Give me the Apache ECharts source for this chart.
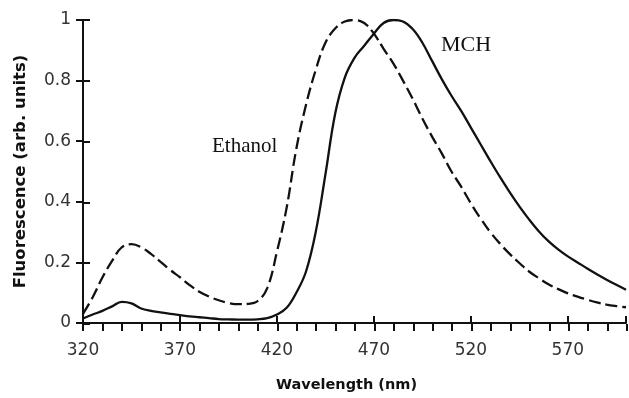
<!DOCTYPE html>
<html>
<head>
<meta charset="utf-8">
<script src="https://cdn.jsdelivr.net/npm/echarts@6/dist/echarts.min.js"></script>
<style>
  html, body { margin: 0; padding: 0; background: #fff; }
  #box { width: 629px; height: 398px; }
</style>
</head>
<body>
<div id="box"></div>
<script>
// wavelength grid (nm), 5 nm steps
let wavelengths = [
  320, 325, 330, 335, 340, 345, 350, 355, 360, 365,
  370, 375, 380, 385, 390, 395, 400, 405, 410, 415,
  420, 425, 430, 435, 440, 445, 450, 455, 460, 465,
  470, 475, 480, 485, 490, 495, 500, 505, 510, 515,
  520, 525, 530, 535, 540, 545, 550, 555, 560, 565,
  570, 575, 580, 585, 590, 595, 600
];
// dashed curve
let ethanol = [
  0.03, 0.085, 0.15, 0.205, 0.25, 0.26, 0.25, 0.228, 0.202, 0.175,
  0.151, 0.125, 0.103, 0.087, 0.075, 0.066, 0.062, 0.063, 0.072, 0.115,
  0.235, 0.38, 0.575, 0.72, 0.835, 0.925, 0.972, 0.995, 1.0, 0.99,
  0.955, 0.905, 0.857, 0.80, 0.74, 0.675, 0.615, 0.56, 0.50, 0.45,
  0.395, 0.345, 0.30, 0.262, 0.228, 0.198, 0.17, 0.148, 0.128, 0.112,
  0.098, 0.087, 0.077, 0.068, 0.061, 0.056, 0.052
];
// solid curve
let mch = [
  0.015, 0.028, 0.04, 0.055, 0.07, 0.065, 0.048, 0.04, 0.035, 0.03,
  0.026, 0.022, 0.019, 0.016, 0.013, 0.012, 0.011, 0.011, 0.012, 0.016,
  0.028, 0.05, 0.10, 0.17, 0.30, 0.49, 0.69, 0.81, 0.875, 0.915,
  0.955, 0.99, 1.0, 0.995, 0.97, 0.925, 0.865, 0.805, 0.75, 0.70,
  0.645, 0.59, 0.535, 0.482, 0.432, 0.385, 0.342, 0.303, 0.27, 0.243,
  0.22, 0.20, 0.18, 0.161, 0.143, 0.126, 0.11
];
let xTicks = [320, 370, 420, 470, 520, 570];
let yTicks = [0, 0.2, 0.4, 0.6, 0.8, 1];

let ink = "#111";
let pairs = arr => wavelengths.map((w, i) => [w, arr[i]]);

let chart = echarts.init(document.getElementById("box"), null, { renderer: "canvas" });

let gridPos = { left: 83, right: 2, top: 20, bottom: 74 };
let option = {
  animation: false,
  backgroundColor: "#fff",
  grid: [Object.assign({}, gridPos), Object.assign({}, gridPos)],
  xAxis: [
    {
      type: "value",
      gridIndex: 0,
      min: 320,
      max: 600,
      interval: 50,
      name: "Wavelength (nm)",
      nameLocation: "middle",
      nameGap: 55,
      nameTextStyle: {
        fontFamily: "DejaVu Sans",
        fontWeight: "bold",
        fontSize: 14.5,
        color: ink,
        padding: [0, 16, 0, 0]
      },
      axisLine: { show: true, onZero: false, lineStyle: { color: ink, width: 2 } },
      axisTick: { show: true, inside: true, length: 7, lineStyle: { color: ink, width: 2 } },
      axisLabel: {
        margin: 19,
        fontFamily: "DejaVu Sans",
        fontSize: 17,
        color: "#333",
        formatter: v => (xTicks.indexOf(v) >= 0 ? String(v) : "")
      },
      splitLine: { show: false }
    },
    {
      // minor ticks every 10 nm
      type: "value",
      gridIndex: 1,
      min: 320,
      max: 600,
      interval: 10,
      axisLine: { show: false },
      axisTick: { show: true, inside: false, length: 7, lineStyle: { color: ink, width: 2 } },
      axisLabel: { show: false },
      splitLine: { show: false }
    }
  ],
  yAxis: [
    {
      type: "value",
      gridIndex: 0,
      min: 0,
      max: 1,
      interval: 0.2,
      name: "Fluorescence (arb. units)",
      nameLocation: "middle",
      nameGap: 54,
      nameTextStyle: {
        fontFamily: "DejaVu Sans",
        fontWeight: "bold",
        fontSize: 16.5,
        color: ink
      },
      axisLine: { show: true, onZero: false, lineStyle: { color: ink, width: 2 } },
      axisTick: { show: true, inside: false, length: 7, lineStyle: { color: ink, width: 2 } },
      axisLabel: {
        margin: 12,
        fontFamily: "DejaVu Sans",
        fontSize: 17,
        color: "#333",
        formatter: v => {
          let t = yTicks.find(y => Math.abs(y - v) < 1e-9);
          return t === undefined ? "" : String(t);
        }
      },
      splitLine: { show: false }
    },
    {
      type: "value",
      gridIndex: 1,
      min: 0,
      max: 1,
      interval: 0.2,
      axisLine: { show: false },
      axisTick: { show: true, inside: true, length: 7, lineStyle: { color: ink, width: 2 } },
      axisLabel: { show: false },
      splitLine: { show: false }
    }
  ],
  series: [
    {
      name: "Ethanol",
      type: "line",
      xAxisIndex: 0,
      yAxisIndex: 0,
      data: pairs(ethanol),
      showSymbol: false,
      smooth: 0.4,
      lineStyle: { color: ink, width: 2.3, type: [12, 5] },
      z: 3
    },
    {
      name: "MCH",
      type: "line",
      xAxisIndex: 0,
      yAxisIndex: 0,
      data: pairs(mch),
      showSymbol: false,
      smooth: 0.4,
      lineStyle: { color: ink, width: 2.3 },
      z: 3
    }
  ],
  graphic: [
    {
      type: "text",
      left: 212,
      top: 136,
      style: { text: "Ethanol", font: "21px 'Liberation Serif'", fill: ink }
    },
    {
      type: "text",
      left: 441,
      top: 34,
      style: { text: "MCH", font: "22px 'Liberation Serif'", fill: ink }
    }
  ]
};

chart.setOption(option);
</script>
</body>
</html>
